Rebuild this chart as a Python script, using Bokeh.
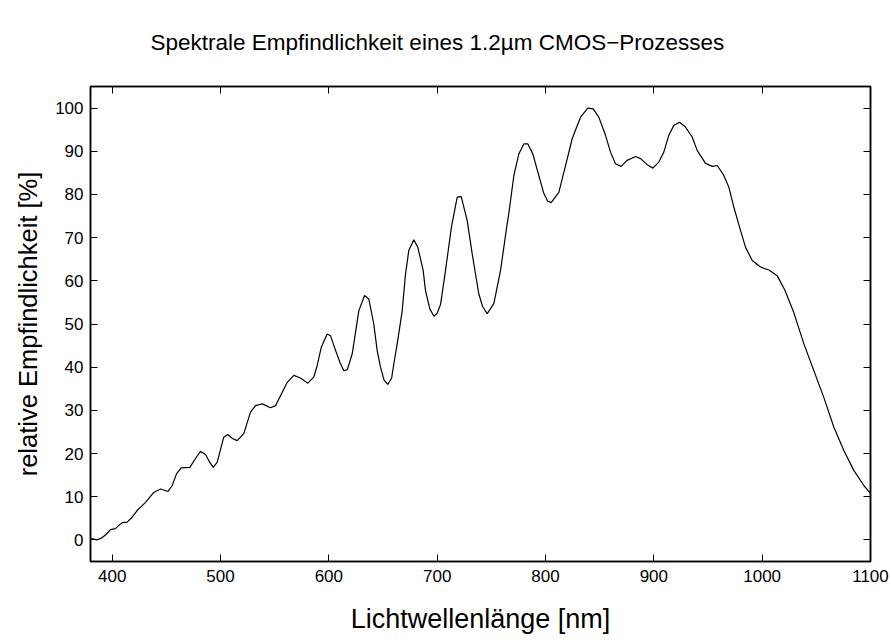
from bokeh.plotting import figure
from bokeh.models import Range1d, LinearAxis, FixedTicker
from bokeh.embed import file_html
from bokeh.resources import INLINE

# Wavelength [nm]
wavelength = [381, 386, 390, 394, 398.5, 403, 406, 409.3, 413.9, 418.5, 423, 430.8, 438.4, 444.6,
              451.4, 455.4, 459.4, 463.7, 471.7, 477.8, 481.5, 486.2, 490, 493.3, 497, 503, 506.7,
              511, 515.4, 521.5, 527.7, 532.3, 538.5, 546.2, 550.8, 557, 561.6, 567.7, 573.8,
              580.6, 586.1, 589.3, 593, 598.5, 601.5, 606.2, 610.1, 613.8, 617, 621.6, 627.7, 633,
              636.9, 641.5, 644.6, 647.7, 651, 654.4, 658, 660, 663.1, 667.7, 670.8, 673.8, 678.4,
              682.1, 687.1, 689.2, 693.2, 697, 700, 703.1, 707.7, 713.2, 718.5, 722.2, 727.7,
              732.3, 738.4, 742, 746.2, 752.3, 758.5, 764.6, 766.1, 770.8, 775.4, 780, 783.7,
              788.3, 792.9, 798.5, 802, 805.2, 812.3, 818.5, 824.6, 832.3, 839.1, 844, 849.2,
              855.4, 860, 864.6, 869.8, 875.4, 883.1, 887.7, 893.9, 899.1, 904.6, 909.2, 913.8,
              918.5, 923.7, 929.2, 935.4, 940, 943.1, 947.7, 953.9, 958.5, 964.6, 969.2, 973.8,
              980, 984.6, 990.8, 998.5, 1006.2, 1013.9, 1021, 1029, 1038.5, 1047.7, 1056.9,
              1066.2, 1075.4, 1084.6, 1093.8, 1100]
# Relative sensitivity [%]
sensitivity = [0.3, 0.0, 0.4, 1.2, 2.4, 2.6, 3.3, 4.0, 4.1, 5.3, 6.8, 8.7, 11.0, 11.8,
               11.2, 12.6, 15.3, 16.7, 16.8, 19.2, 20.5, 19.8, 18.0, 16.8, 18.0, 23.8, 24.4,
               23.5, 23.0, 24.6, 29.6, 31.1, 31.5, 30.6, 31.1, 34.2, 36.5, 38.1, 37.5,
               36.3, 37.7, 40.4, 44.6, 47.7, 47.3, 43.9, 41.2, 39.2, 39.4, 43.1, 53.1, 56.6,
               55.8, 50.0, 43.9, 40.0, 37.0, 36.0, 37.5, 40.8, 45.4, 53.0, 61.6, 67.0, 69.5,
               67.8, 62.4, 57.8, 53.5, 51.8, 52.5, 54.5, 62.4, 72.5, 79.4, 79.5, 74.0,
               66.3, 57.0, 54.0, 52.4, 54.7, 62.4, 73.2, 75.5, 84.4, 89.4, 91.7, 91.7,
               89.4, 85.2, 80.2, 78.5, 78.1, 80.5, 86.7, 92.9, 97.9, 100.0, 99.8, 97.9,
               93.7, 89.8, 87.1, 86.5, 87.9, 88.8, 88.3, 86.9, 86.1, 87.5, 89.8, 93.7,
               96.0, 96.7, 95.6, 93.3, 90.2, 89.0, 87.2, 86.5, 86.7, 84.4, 81.7, 77.1,
               71.7, 67.8, 64.7, 63.2, 62.5, 61.2, 57.8, 52.8, 45.4, 39.2, 33.0,
               26.1, 20.7, 16.1, 12.6, 10.8]

x_ticks = [400, 500, 600, 700, 800, 900, 1000, 1100]
y_ticks = [0, 10, 20, 30, 40, 50, 60, 70, 80, 90, 100]

title_text = "Spektrale Empfindlichkeit eines 1.2\u00b5m CMOS\u2212Prozesses"
x_label = "Lichtwellenl\u00e4nge [nm]"
y_label = "relative Empfindlichkeit [%]"

FONT = "Liberation Sans"

p = figure(width=892, height=642, output_backend="svg", toolbar_location=None,
           x_range=Range1d(380, 1100), y_range=Range1d(-5, 105),
           x_axis_type=None, y_axis_type=None,
           min_border_left=90, min_border_right=22, min_border_top=86, min_border_bottom=81)

p.background_fill_color = "white"
p.border_fill_color = "white"
p.outline_line_color = "black"
p.outline_line_width = 1.5
p.grid.visible = False

p.title.text = title_text
p.title.text_font = FONT
p.title.text_font_size = "22.5px"
p.title.text_font_style = "normal"
p.title.text_color = "black"
p.title.align = "left"
p.title.vertical_align = "top"
p.title.offset = 60
p.title.standoff = 59

def style_axis(ax, ticks, show_labels):
    ax.ticker = FixedTicker(ticks=ticks)
    ax.major_tick_in = 7
    ax.major_tick_out = 0
    ax.minor_tick_in = 0
    ax.minor_tick_out = 0
    ax.major_tick_line_color = "black"
    ax.major_tick_line_width = 1
    ax.axis_line_color = "black"
    ax.axis_line_width = 1.5
    ax.major_label_text_font = FONT
    ax.major_label_text_color = "black"
    if show_labels:
        ax.major_label_text_font_size = "17px"
    else:
        ax.major_label_text_font_size = "0px"
        ax.major_label_standoff = 0

bottom = LinearAxis(axis_label=x_label)
style_axis(bottom, x_ticks, True)
bottom.major_label_standoff = 8
bottom.axis_label_text_font = FONT
bottom.axis_label_text_font_size = "27px"
bottom.axis_label_text_font_style = "normal"
bottom.axis_label_text_color = "black"
bottom.axis_label_standoff = 19
p.add_layout(bottom, "below")

left = LinearAxis(axis_label=y_label)
style_axis(left, y_ticks, True)
left.major_label_standoff = 7
left.axis_label_text_font = FONT
left.axis_label_text_font_size = "25.5px"
left.axis_label_text_font_style = "normal"
left.axis_label_text_color = "black"
left.axis_label_standoff = 10
p.add_layout(left, "left")

top = LinearAxis()
style_axis(top, x_ticks, False)
p.add_layout(top, "above")

right = LinearAxis()
style_axis(right, y_ticks, False)
p.add_layout(right, "right")

p.line(wavelength, sensitivity, line_color="black", line_width=1.2)

open("out.html", "w").write(file_html(p, INLINE))
